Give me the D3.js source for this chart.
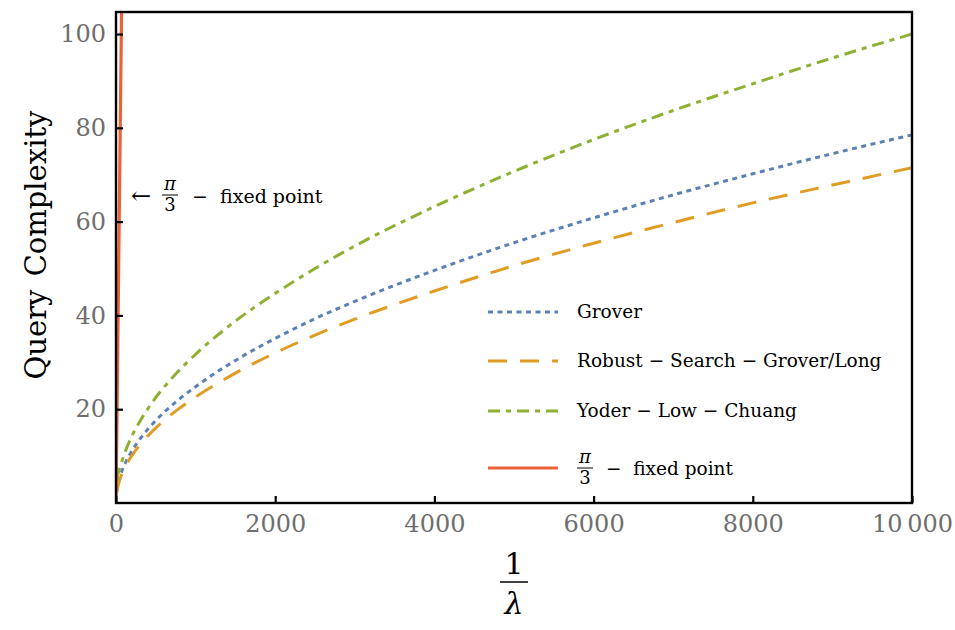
<!DOCTYPE html>
<html><head><meta charset="utf-8">
<script src="https://cdn.jsdelivr.net/npm/d3@7"></script>
<style>body{margin:0;background:#fff}svg{display:block}</style>
</head><body>
<svg id="c" width="955" height="630"></svg>
<script>
// Data
const invLambda = [10, 25, 50, 100, 200, 300, 500, 750, 1000, 1500, 2000, 2500, 3000, 4000, 5000, 6000, 7000, 8000, 9000, 10000];
const grover    = [2.5, 3.9, 5.6, 7.9, 11.1, 13.6, 17.6, 21.5, 24.8, 30.4, 35.1, 39.3, 43.0, 49.6, 55.5, 60.8, 65.7, 70.2, 74.5, 78.5];
const robust    = [2.3, 3.6, 5.1, 7.2, 10.1, 12.4, 16.0, 19.6, 22.6, 27.7, 32.0, 35.8, 39.2, 45.2, 50.6, 55.4, 59.8, 64.0, 67.8, 71.5];
const yoder     = [5.0, 6.2, 7.6, 10.2, 14.3, 17.4, 22.5, 27.5, 31.7, 38.8, 44.7, 50.0, 54.8, 63.2, 70.7, 77.5, 83.7, 89.4, 94.9, 100.0];
const fixedX    = [1, 20, 40, 70];
const fixedY    = [1.5, 30, 60, 105];
const xTicks = [0, 2000, 4000, 6000, 8000, 10000];
const yTicks = [20, 40, 60, 80, 100];
const seriesNames = ["Grover", "Robust \u2212 Search \u2212 Grover/Long", "Yoder \u2212 Low \u2212 Chuang", "fixed point"];
const colors = ["#5E81B5", "#E19C24", "#8FB032", "#EB6235"];
const dashes = ["5,4.5", "19,13", "12,6,5,6", null];

const svg = d3.select("#c");
const L = 116, R = 912, T = 12, B = 503;
const x = d3.scaleLinear().domain([0, 10000]).range([L, R]);
const y = d3.scaleLinear().domain([0, 104.7]).range([B, T]);
const serif = "DejaVu Serif, Liberation Serif, Times New Roman, serif";

svg.append("defs").append("clipPath").attr("id", "clip")
  .append("rect").attr("x", L).attr("y", T).attr("width", R - L).attr("height", B - T);

const line = d3.line().x(d => x(d[0])).y(d => y(d[1])).curve(d3.curveMonotoneX);
const g = svg.append("g").attr("clip-path", "url(#clip)");
const data = [
  invLambda.map((v, i) => [v, grover[i]]),
  invLambda.map((v, i) => [v, robust[i]]),
  invLambda.map((v, i) => [v, yoder[i]]),
  fixedX.map((v, i) => [v, fixedY[i]])
];
data.forEach((d, i) => {
  g.append("path").datum(d).attr("d", line).attr("fill", "none")
    .attr("stroke", colors[i]).attr("stroke-width", i === 3 ? 3.2 : 3)
    .attr("stroke-dasharray", dashes[i]);
});

// axes (inside ticks)
const xAxis = d3.axisBottom(x).tickValues(xTicks).tickSize(-7).tickPadding(12)
  .tickFormat(d => d === 10000 ? "10\u2009000" : String(d));
const yAxis = d3.axisLeft(y).tickValues(yTicks).tickSize(-7).tickPadding(10);
const gx = svg.append("g").attr("transform", `translate(0,${B})`).call(xAxis);
const gy = svg.append("g").attr("transform", `translate(${L},0)`).call(yAxis);
[gx, gy].forEach(a => {
  a.select(".domain").remove();
  a.selectAll(".tick line").attr("stroke", "#000").attr("stroke-width", 2.2);
  a.selectAll(".tick text").attr("fill", "#6e6e6e").style("font-family", serif).attr("font-size", 24);
});
gx.selectAll(".tick text").attr("dy", "0.71em");

// frame
svg.append("rect").attr("x", L).attr("y", T).attr("width", R - L).attr("height", B - T)
  .attr("fill", "none").attr("stroke", "#000").attr("stroke-width", 2.4);

// axis titles
svg.append("text").attr("transform", "translate(46,245) rotate(-90)")
  .attr("text-anchor", "middle").style("font-family", serif).attr("font-size", 29)
  .attr("word-spacing", 4).text("Query Complexity");
svg.append("text").attr("x", 514).attr("y", 574).attr("text-anchor", "middle")
  .style("font-family", serif).attr("font-size", 30).text("1");
svg.append("line").attr("x1", 500).attr("x2", 528).attr("y1", 582).attr("y2", 582)
  .attr("stroke", "#000").attr("stroke-width", 1.5);
svg.append("text").attr("x", 514).attr("y", 614).attr("text-anchor", "middle")
  .style("font-family", serif).attr("font-size", 30).attr("font-style", "italic").text("\u03bb");

// fraction helper
function frac(cx, cy, size) {
  svg.append("text").attr("x", cx).attr("y", cy - 5).attr("text-anchor", "middle")
    .style("font-family", serif).attr("font-size", size).attr("font-style", "italic").text("\u03c0");
  svg.append("line").attr("x1", cx - 8).attr("x2", cx + 8).attr("y1", cy).attr("y2", cy)
    .attr("stroke", "#000").attr("stroke-width", 1);
  svg.append("text").attr("x", cx).attr("y", cy + size * 0.9).attr("text-anchor", "middle")
    .style("font-family", serif).attr("font-size", size).text("3");
}

// annotation
svg.append("text").attr("x", 131).attr("y", 204).style("font-family", serif).attr("font-size", 24).text("\u2190");
frac(170, 195, 18);
svg.append("text").attr("x", 192).attr("y", 203).style("font-family", serif).attr("font-size", 19)
  .attr("xml:space", "preserve").text("\u2212  fixed point");

// legend
const legY = [312, 361, 411, 468];
legY.forEach((ly, i) => {
  svg.append("line").attr("x1", 488).attr("x2", 558).attr("y1", ly).attr("y2", ly)
    .attr("stroke", colors[i]).attr("stroke-width", 3).attr("stroke-dasharray", dashes[i]);
  if (i < 3) {
    svg.append("text").attr("x", 577).attr("y", ly + 6).style("font-family", serif)
      .attr("font-size", 18.5).attr("xml:space", "preserve").text(seriesNames[i]);
  } else {
    frac(585, ly, 18);
    svg.append("text").attr("x", 606).attr("y", ly + 7).style("font-family", serif)
      .attr("font-size", 18.5).attr("xml:space", "preserve").text("\u2212  " + seriesNames[i]);
  }
});
</script>
</body></html>
